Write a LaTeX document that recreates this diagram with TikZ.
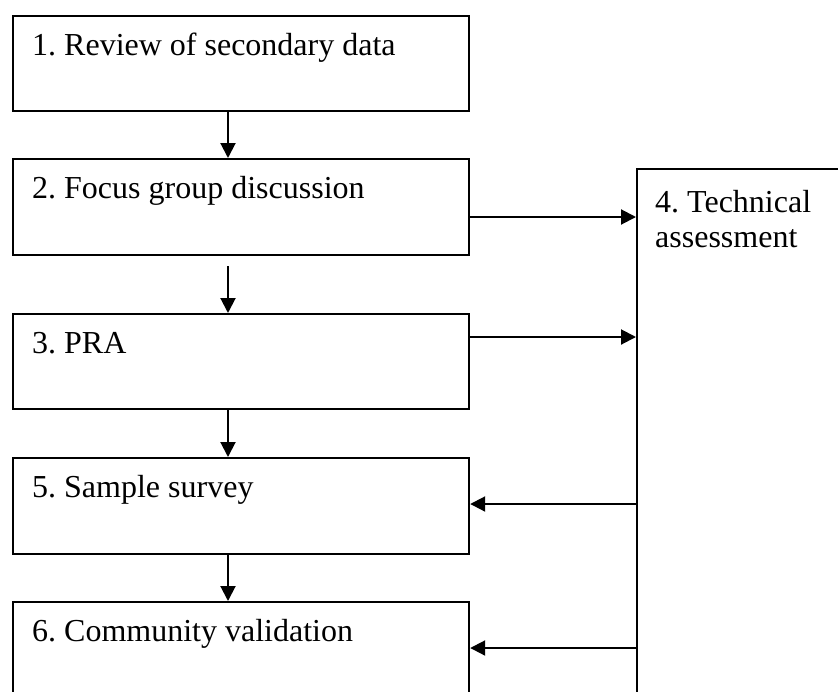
\documentclass[tikz,border=0pt]{standalone}
\usepackage{fontspec}
\setmainfont{Liberation Serif}
\usetikzlibrary{arrows.meta,calc}
\frenchspacing
\begin{document}
\begin{tikzpicture}[x=1pt,y=-1pt,
  stage/.style={draw, line width=2.2pt, rectangle, inner sep=0pt, anchor=north west},
  caption/.style={anchor=base west, inner sep=0pt, font=\fontsize{32}{35}\selectfont},
  flow/.style={line width=2pt, -{Triangle[length=15pt,width=15pt]}}]
\useasboundingbox (0,0) rectangle (838,691);
\clip (0,0) rectangle (838,691);

% process stages
\node[stage, minimum width=456pt, minimum height=95pt] (s1) at (12,15) {};
\node[stage, minimum width=456pt, minimum height=96pt] (s2) at (12,158) {};
\node[stage, minimum width=456pt, minimum height=95pt] (s3) at (12,313) {};
\node[stage, minimum width=456pt, minimum height=96pt] (s5) at (12,457) {};
\node[stage, minimum width=456pt, minimum height=150pt] (s6) at (12,601) {};
\node[stage, minimum width=300pt, minimum height=600pt] (s4) at (636,168) {};

% stage titles
\node[caption] (c1) at ($(s1.north west)+(20,40)$) {1. Review of secondary data};
\node[caption] (c2) at ($(s2.north west)+(20,40)$) {2. Focus group discussion};
\node[caption] (c3) at ($(s3.north west)+(20,40)$) {3. PRA};
\node[caption] (c5) at ($(s5.north west)+(20,40)$) {5. Sample survey};
\node[caption] (c6) at ($(s6.north west)+(20,40)$) {6. Community validation};
\node[caption] (c4) at ($(s4.north west)+(19,44)$) {\parbox[t]{190pt}{4. Technical\\assessment}};

% main sequence
\draw[flow] ($(s1.south west)+(216,0)$) -- ($(s2.north west)+(216,0)$);
\draw[flow] ($(s2.south west)+(216,10)$) -- ($(s3.north west)+(216,0)$);
\draw[flow] ($(s3.south west)+(216,0)$) -- ($(s5.north west)+(216,0)$);
\draw[flow] ($(s5.south west)+(216,0)$) -- ($(s6.north west)+(216,0)$);

% links with the technical assessment
\draw[flow] (s2.east |- 0,217) -- (s4.west |- 0,217);
\draw[flow] (s3.east |- 0,337) -- (s4.west |- 0,337);
\draw[flow] (s4.west |- 0,504) -- (s5.east |- 0,504);
\draw[flow] (s4.west |- 0,648) -- (s6.east |- 0,648);
\end{tikzpicture}
\end{document}
